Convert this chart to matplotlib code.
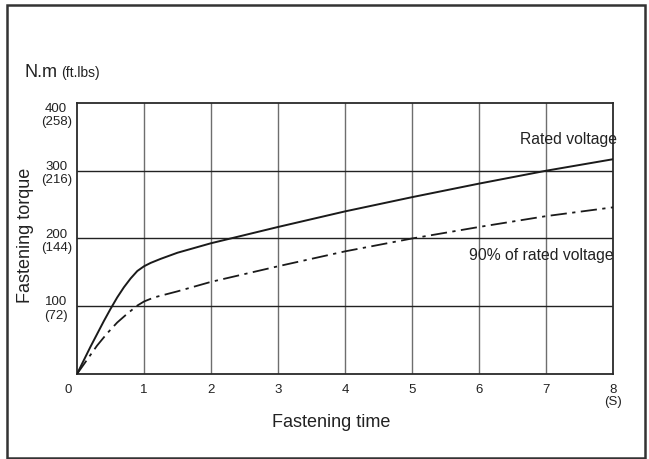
import matplotlib
matplotlib.use("Agg")
import matplotlib.pyplot as plt
from matplotlib.patches import Rectangle

plt.rcParams['font.family'] = ['Liberation Sans', 'DejaVu Sans']

# Data
time_rated = [0, 0.1, 0.2, 0.3, 0.4, 0.5, 0.6, 0.7, 0.8, 0.9, 1.0, 1.1, 1.25, 1.5, 2, 3, 4, 5, 6, 7, 8]
torque_rated = [0, 20, 40, 59, 78, 96, 113, 128, 141, 152, 159, 164, 170, 179, 193, 217, 240, 261, 281, 300, 317]
time_90 = [0, 0.15, 0.3, 0.45, 0.6, 0.75, 0.9, 1.0, 1.15, 1.5, 2, 3, 4, 5, 6, 7, 8]
torque_90 = [0, 21, 42, 60, 76, 89, 101, 107, 113, 122, 136, 159, 181, 200, 217, 233, 246]

y_ticks = [100, 200, 300, 400]
y_tick_labels = ["100\n(72)", "200\n(144)", "300\n(216)", "400\n(258)"]
x_ticks = [0, 1, 2, 3, 4, 5, 6, 7, 8]
x_tick_labels = ["0", "1", "2", "3", "4", "5", "6", "7", "8\n(S)"]

W, H = 649, 459
fig = plt.figure(figsize=(W / 100, H / 100), dpi=100)
ax = fig.add_axes([77 / W, 1 - 374 / H, (613 - 77) / W, (374 - 103) / H])

ax.set_xlim(0, 8)
ax.set_ylim(0, 400)

# grid
for xv in x_ticks[1:-1]:
    ax.axvline(xv, color='#6e6e6e', lw=1.0, zorder=1)
for yv in y_ticks[:-1]:
    ax.axhline(yv, color='#222222', lw=1.0, zorder=1)

for s in ax.spines.values():
    s.set_color('#2a2a2a')
    s.set_linewidth(1.3)

ax.plot(time_rated, torque_rated, color='#1a1a1a', lw=1.4, zorder=3)
ax.plot(time_90, torque_90, color='#1a1a1a', lw=1.3,
        linestyle=(0, (9, 3, 1.8, 3)), zorder=3)

ax.set_xticks([])
ax.set_yticks([])

# y tick labels
for yv, lab in zip(y_ticks, y_tick_labels):
    yy = yv - 4 if yv < 400 else yv - 18
    ax.text(-0.31, yy, lab, ha='center', va='center', fontsize=9.5,
            multialignment='center', linespacing=1.15, color='#222222',
            clip_on=False)

# x tick labels
for xv, lab in zip(x_ticks, x_tick_labels):
    xx = xv - 0.13 if xv == 0 else xv
    ax.text(xx, -15, lab, ha='center', va='top', fontsize=9.5,
            multialignment='center', linespacing=1.0, color='#222222',
            clip_on=False)

ax.text(8.06, 339, "Rated voltage", ha='right', va='baseline', fontsize=11.3,
        color='#222222', clip_on=False)
ax.text(8.01, 169, "90% of rated voltage", ha='right', va='baseline',
        fontsize=11.3, color='#222222', clip_on=False)

fig.text(331 / W, 1 - 427 / H, "Fastening time", ha='center', va='baseline',
         fontsize=13, color='#222222')
fig.text(25.5 / W, 1 - 235 / H, "Fastening torque", ha='center', va='center',
         rotation=90, fontsize=13, color='#222222')
fig.text(24 / W, 1 - 76.7 / H, "N.m", ha='left', va='baseline', fontsize=13,
         color='#222222')
fig.text(61.5 / W, 1 - 76.7 / H, "(ft.lbs)", ha='left', va='baseline',
         fontsize=10, color='#222222')

fig.add_artist(Rectangle((6.5 / W, 1 - 458 / H), (645 - 6.5) / W, (458 - 5) / H,
                         transform=fig.transFigure, fill=False,
                         edgecolor='#333333', lw=1.8))

fig.savefig("out.png", dpi=100)
